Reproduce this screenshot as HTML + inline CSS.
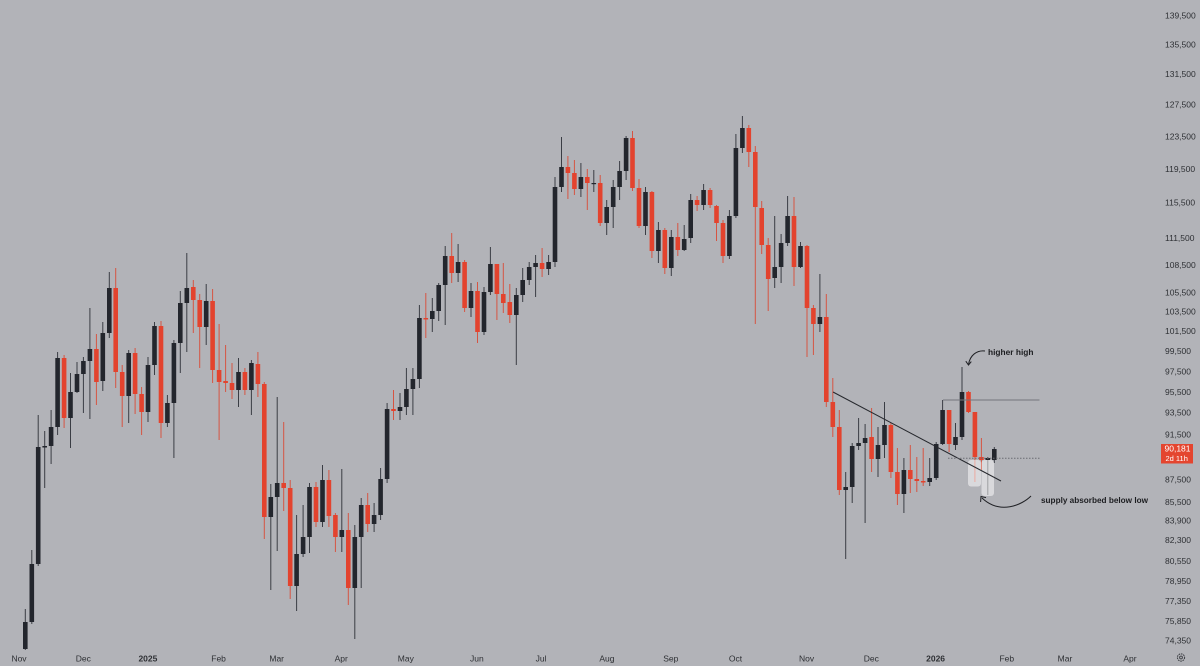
<!DOCTYPE html>
<html><head><meta charset="utf-8"><style>
html,body{margin:0;padding:0;background:#b2b3b8;}
svg{display:block;}
.d{fill:#23262d}.r{fill:#e3432e}
.wd{stroke:#3a3d44;stroke-width:1;fill:none}
.wr{stroke:#d65442;stroke-width:1;fill:none}
.yl{font-family:"Liberation Sans",sans-serif;font-size:8.5px;fill:#2e3034}
.xl{font-family:"Liberation Sans",sans-serif;font-size:8.5px;fill:#2e3034;text-anchor:middle}
.an{font-family:"Liberation Sans",sans-serif;font-size:8.5px;font-weight:bold;fill:#1c1d20}
</style></head><body>
<svg width="1200" height="666" viewBox="0 0 1200 666" xmlns="http://www.w3.org/2000/svg">
<rect width="1200" height="666" fill="#b2b3b8"/>
<g>
<path class="wd" d="M25.3 609V650"/><rect class="d" x="23" y="622" width="4.6" height="27"/>
<path class="wd" d="M31.8 550V624"/><rect class="d" x="29.5" y="564" width="4.6" height="58"/>
<path class="wd" d="M38.2 415V566"/><rect class="d" x="35.9" y="447" width="4.6" height="117"/>
<path class="wd" d="M44.7 431V488"/><rect class="d" x="42.4" y="446" width="4.6" height="1.5"/>
<path class="wd" d="M51.1 410V464"/><rect class="d" x="48.8" y="427" width="4.6" height="19"/>
<path class="wd" d="M57.6 352V435"/><rect class="d" x="55.3" y="358" width="4.6" height="69"/>
<path class="wr" d="M64.1 355V428"/><rect class="r" x="61.8" y="358" width="4.6" height="60"/>
<path class="wd" d="M70.5 373V448"/><rect class="d" x="68.2" y="392" width="4.6" height="26"/>
<path class="wd" d="M77 362V393"/><rect class="d" x="74.7" y="374" width="4.6" height="18"/>
<path class="wd" d="M83.4 357V413"/><rect class="d" x="81.1" y="361" width="4.6" height="13"/>
<path class="wd" d="M89.9 308V419"/><rect class="d" x="87.6" y="349" width="4.6" height="12"/>
<path class="wr" d="M96.4 334V405"/><rect class="r" x="94.1" y="349" width="4.6" height="33"/>
<path class="wd" d="M102.8 322V391"/><rect class="d" x="100.5" y="333" width="4.6" height="48"/>
<path class="wd" d="M109.3 272V338"/><rect class="d" x="107" y="288" width="4.6" height="45"/>
<path class="wr" d="M115.7 268V388"/><rect class="r" x="113.4" y="288" width="4.6" height="84"/>
<path class="wr" d="M122.2 365V427"/><rect class="r" x="119.9" y="372" width="4.6" height="24"/>
<path class="wd" d="M128.7 350V423"/><rect class="d" x="126.4" y="353" width="4.6" height="43"/>
<path class="wr" d="M135.1 348V414"/><rect class="r" x="132.8" y="353" width="4.6" height="41"/>
<path class="wr" d="M141.6 387V435"/><rect class="r" x="139.3" y="394" width="4.6" height="18"/>
<path class="wd" d="M148 357V422"/><rect class="d" x="145.7" y="365" width="4.6" height="47"/>
<path class="wd" d="M154.5 322V375"/><rect class="d" x="152.2" y="326" width="4.6" height="39"/>
<path class="wr" d="M161 321V438"/><rect class="r" x="158.7" y="326" width="4.6" height="97"/>
<path class="wd" d="M167.4 395V427"/><rect class="d" x="165.1" y="403" width="4.6" height="20"/>
<path class="wd" d="M173.9 340V458"/><rect class="d" x="171.6" y="343" width="4.6" height="60"/>
<path class="wd" d="M180.3 291V373"/><rect class="d" x="178" y="303" width="4.6" height="40"/>
<path class="wd" d="M186.8 253V352"/><rect class="d" x="184.5" y="288" width="4.6" height="15"/>
<path class="wr" d="M193.3 280V333"/><rect class="r" x="191" y="287" width="4.6" height="13"/>
<path class="wr" d="M199.7 294V368"/><rect class="r" x="197.4" y="300" width="4.6" height="27"/>
<path class="wd" d="M206.2 284V345"/><rect class="d" x="203.9" y="301" width="4.6" height="26"/>
<path class="wr" d="M212.6 289V383"/><rect class="r" x="210.3" y="301" width="4.6" height="69"/>
<path class="wr" d="M219.1 324V440"/><rect class="r" x="216.8" y="370" width="4.6" height="12"/>
<path class="wr" d="M225.6 345V392"/><rect class="r" x="223.3" y="381" width="4.6" height="2"/>
<path class="wr" d="M232 363V399"/><rect class="r" x="229.7" y="383" width="4.6" height="7"/>
<path class="wd" d="M238.5 358V407"/><rect class="d" x="236.2" y="372" width="4.6" height="18"/>
<path class="wr" d="M244.9 368V395"/><rect class="r" x="242.6" y="372" width="4.6" height="18"/>
<path class="wd" d="M251.4 360V415"/><rect class="d" x="249.1" y="363" width="4.6" height="27"/>
<path class="wr" d="M257.9 352V397"/><rect class="r" x="255.6" y="364" width="4.6" height="20"/>
<path class="wr" d="M264.3 382V539"/><rect class="r" x="262" y="384" width="4.6" height="133"/>
<path class="wd" d="M270.8 484V590"/><rect class="d" x="268.5" y="497" width="4.6" height="20"/>
<path class="wd" d="M277.2 397V551"/><rect class="d" x="274.9" y="483" width="4.6" height="14"/>
<path class="wr" d="M283.7 422V511"/><rect class="r" x="281.4" y="483" width="4.6" height="5"/>
<path class="wr" d="M290.2 480V599"/><rect class="r" x="287.9" y="488" width="4.6" height="98"/>
<path class="wd" d="M296.6 515V611"/><rect class="d" x="294.3" y="554" width="4.6" height="32"/>
<path class="wd" d="M303.1 505V557"/><rect class="d" x="300.8" y="537" width="4.6" height="17"/>
<path class="wd" d="M309.5 483V553"/><rect class="d" x="307.2" y="487" width="4.6" height="50"/>
<path class="wr" d="M316 482V527"/><rect class="r" x="313.7" y="487" width="4.6" height="35"/>
<path class="wd" d="M322.5 465V527"/><rect class="d" x="320.2" y="480" width="4.6" height="42"/>
<path class="wr" d="M328.9 470V527"/><rect class="r" x="326.6" y="480" width="4.6" height="36"/>
<path class="wr" d="M335.4 513V552"/><rect class="r" x="333.1" y="515" width="4.6" height="22"/>
<path class="wd" d="M341.8 469V552"/><rect class="d" x="339.5" y="530" width="4.6" height="7"/>
<path class="wr" d="M348.3 513V605"/><rect class="r" x="346" y="530" width="4.6" height="58"/>
<path class="wd" d="M354.8 525V639"/><rect class="d" x="352.5" y="537" width="4.6" height="51"/>
<path class="wd" d="M361.2 498V588"/><rect class="d" x="358.9" y="505" width="4.6" height="32"/>
<path class="wr" d="M367.7 493V532"/><rect class="r" x="365.4" y="505" width="4.6" height="19"/>
<path class="wd" d="M374.1 503V532"/><rect class="d" x="371.8" y="515" width="4.6" height="9"/>
<path class="wd" d="M380.6 468V520"/><rect class="d" x="378.3" y="479" width="4.6" height="36"/>
<path class="wd" d="M387.1 403V483"/><rect class="d" x="384.8" y="409" width="4.6" height="70"/>
<path class="wr" d="M393.5 390V420"/><rect class="r" x="391.2" y="409" width="4.6" height="2"/>
<path class="wd" d="M400 393V420"/><rect class="d" x="397.7" y="407" width="4.6" height="4"/>
<path class="wd" d="M406.4 368V415"/><rect class="d" x="404.1" y="389" width="4.6" height="18"/>
<path class="wd" d="M412.9 368V415"/><rect class="d" x="410.6" y="379" width="4.6" height="10"/>
<path class="wd" d="M419.4 305V388"/><rect class="d" x="417.1" y="318" width="4.6" height="61"/>
<path class="wr" d="M425.8 293V338"/><rect class="r" x="423.5" y="318" width="4.6" height="1.5"/>
<path class="wd" d="M432.3 298V332"/><rect class="d" x="430" y="311" width="4.6" height="8"/>
<path class="wd" d="M438.7 283V321"/><rect class="d" x="436.4" y="285" width="4.6" height="26"/>
<path class="wd" d="M445.2 246V325"/><rect class="d" x="442.9" y="256" width="4.6" height="29"/>
<path class="wr" d="M451.7 233V283"/><rect class="r" x="449.4" y="256" width="4.6" height="17"/>
<path class="wd" d="M458.1 244V282"/><rect class="d" x="455.8" y="262" width="4.6" height="11"/>
<path class="wr" d="M464.6 260V312"/><rect class="r" x="462.3" y="262" width="4.6" height="46"/>
<path class="wd" d="M471 283V317"/><rect class="d" x="468.7" y="291" width="4.6" height="17"/>
<path class="wr" d="M477.5 282V343"/><rect class="r" x="475.2" y="291" width="4.6" height="41"/>
<path class="wd" d="M484 287V335"/><rect class="d" x="481.7" y="292" width="4.6" height="40"/>
<path class="wd" d="M490.4 247V295"/><rect class="d" x="488.1" y="264" width="4.6" height="28"/>
<path class="wr" d="M496.9 264V320"/><rect class="r" x="494.6" y="264" width="4.6" height="30"/>
<path class="wr" d="M503.3 263V313"/><rect class="r" x="501" y="294" width="4.6" height="9"/>
<path class="wr" d="M509.8 284V323"/><rect class="r" x="507.5" y="302" width="4.6" height="13"/>
<path class="wd" d="M516.3 288V365"/><rect class="d" x="514" y="295" width="4.6" height="20"/>
<path class="wd" d="M522.7 268V302"/><rect class="d" x="520.4" y="280" width="4.6" height="15"/>
<path class="wd" d="M529.2 262V285"/><rect class="d" x="526.9" y="267" width="4.6" height="13"/>
<path class="wd" d="M535.6 255V297"/><rect class="d" x="533.3" y="263" width="4.6" height="4"/>
<path class="wr" d="M542.1 248V277"/><rect class="r" x="539.8" y="263" width="4.6" height="6"/>
<path class="wd" d="M548.6 255V275"/><rect class="d" x="546.3" y="262" width="4.6" height="7"/>
<path class="wd" d="M555 177V267"/><rect class="d" x="552.7" y="187" width="4.6" height="75"/>
<path class="wd" d="M561.5 137V192"/><rect class="d" x="559.2" y="167" width="4.6" height="20"/>
<path class="wr" d="M567.9 156V199"/><rect class="r" x="565.6" y="167" width="4.6" height="6"/>
<path class="wr" d="M574.4 160V195"/><rect class="r" x="572.1" y="173" width="4.6" height="16"/>
<path class="wd" d="M580.9 163V197"/><rect class="d" x="578.6" y="177" width="4.6" height="12"/>
<path class="wr" d="M587.3 169V210"/><rect class="r" x="585" y="177" width="4.6" height="6"/>
<path class="wd" d="M593.8 170V192"/><rect class="d" x="591.5" y="183" width="4.6" height="1.2"/>
<path class="wr" d="M600.2 175V226"/><rect class="r" x="597.9" y="183" width="4.6" height="40"/>
<path class="wd" d="M606.7 200V235"/><rect class="d" x="604.4" y="207" width="4.6" height="16"/>
<path class="wd" d="M613.2 180V228"/><rect class="d" x="610.9" y="187" width="4.6" height="20"/>
<path class="wd" d="M619.6 161V200"/><rect class="d" x="617.3" y="171" width="4.6" height="16"/>
<path class="wd" d="M626.1 136V180"/><rect class="d" x="623.8" y="138" width="4.6" height="33"/>
<path class="wr" d="M632.5 131V191"/><rect class="r" x="630.2" y="138" width="4.6" height="50"/>
<path class="wr" d="M639 179V228"/><rect class="r" x="636.7" y="188" width="4.6" height="38"/>
<path class="wd" d="M645.5 187V235"/><rect class="d" x="643.2" y="192" width="4.6" height="34"/>
<path class="wr" d="M651.9 191V258"/><rect class="r" x="649.6" y="192" width="4.6" height="59"/>
<path class="wd" d="M658.4 222V263"/><rect class="d" x="656.1" y="230" width="4.6" height="21"/>
<path class="wr" d="M664.8 228V274"/><rect class="r" x="662.5" y="230" width="4.6" height="38"/>
<path class="wd" d="M671.3 230V276"/><rect class="d" x="669" y="237" width="4.6" height="31"/>
<path class="wr" d="M677.8 223V256"/><rect class="r" x="675.5" y="237" width="4.6" height="13"/>
<path class="wd" d="M684.2 225V251"/><rect class="d" x="681.9" y="239" width="4.6" height="11"/>
<path class="wd" d="M690.7 194V243"/><rect class="d" x="688.4" y="200" width="4.6" height="38"/>
<path class="wr" d="M697.1 196V211"/><rect class="r" x="694.8" y="200" width="4.6" height="5"/>
<path class="wd" d="M703.6 184V210"/><rect class="d" x="701.3" y="190" width="4.6" height="15"/>
<path class="wr" d="M710.1 188V208"/><rect class="r" x="707.8" y="190" width="4.6" height="15"/>
<path class="wr" d="M716.5 205V241"/><rect class="r" x="714.2" y="206" width="4.6" height="17"/>
<path class="wr" d="M723 220V263"/><rect class="r" x="720.7" y="223" width="4.6" height="33"/>
<path class="wd" d="M729.4 210V259"/><rect class="d" x="727.1" y="216" width="4.6" height="40"/>
<path class="wd" d="M735.9 134V218"/><rect class="d" x="733.6" y="148" width="4.6" height="68"/>
<path class="wd" d="M742.4 116V153"/><rect class="d" x="740.1" y="128" width="4.6" height="20"/>
<path class="wr" d="M748.8 125V167"/><rect class="r" x="746.5" y="128" width="4.6" height="24"/>
<path class="wr" d="M755.3 146V324"/><rect class="r" x="753" y="152" width="4.6" height="55"/>
<path class="wr" d="M761.7 201V254"/><rect class="r" x="759.4" y="208" width="4.6" height="37"/>
<path class="wr" d="M768.2 238V311"/><rect class="r" x="765.9" y="245" width="4.6" height="34"/>
<path class="wd" d="M774.7 216V288"/><rect class="d" x="772.4" y="267" width="4.6" height="11"/>
<path class="wd" d="M781.1 234V283"/><rect class="d" x="778.8" y="243" width="4.6" height="24"/>
<path class="wd" d="M787.6 196V246"/><rect class="d" x="785.3" y="216" width="4.6" height="27"/>
<path class="wr" d="M794 197V286"/><rect class="r" x="791.7" y="216" width="4.6" height="51"/>
<path class="wd" d="M800.5 242V268"/><rect class="d" x="798.2" y="246" width="4.6" height="21"/>
<path class="wr" d="M807 245V357"/><rect class="r" x="804.7" y="246" width="4.6" height="62"/>
<path class="wr" d="M813.4 305V355"/><rect class="r" x="811.1" y="308" width="4.6" height="16"/>
<path class="wd" d="M819.9 274V332"/><rect class="d" x="817.6" y="317" width="4.6" height="7"/>
<path class="wr" d="M826.3 294V407"/><rect class="r" x="824" y="317" width="4.6" height="85"/>
<path class="wr" d="M832.8 378V437"/><rect class="r" x="830.5" y="402" width="4.6" height="25"/>
<path class="wr" d="M839.3 410V495"/><rect class="r" x="837" y="427" width="4.6" height="63"/>
<path class="wd" d="M845.7 472V559"/><rect class="d" x="843.4" y="487" width="4.6" height="3"/>
<path class="wd" d="M852.2 443V503"/><rect class="d" x="849.9" y="446" width="4.6" height="41"/>
<path class="wd" d="M858.6 418V450"/><rect class="d" x="856.3" y="443" width="4.6" height="3"/>
<path class="wd" d="M865.1 424V523"/><rect class="d" x="862.8" y="438" width="4.6" height="5"/>
<path class="wr" d="M871.6 408V472"/><rect class="r" x="869.3" y="437" width="4.6" height="22"/>
<path class="wd" d="M878 427V477"/><rect class="d" x="875.7" y="445" width="4.6" height="14"/>
<path class="wd" d="M884.5 402V458"/><rect class="d" x="882.2" y="425" width="4.6" height="20"/>
<path class="wr" d="M890.9 423V478"/><rect class="r" x="888.6" y="425" width="4.6" height="47"/>
<path class="wr" d="M897.4 448V505"/><rect class="r" x="895.1" y="472" width="4.6" height="22"/>
<path class="wd" d="M903.9 458V513"/><rect class="d" x="901.6" y="470" width="4.6" height="24"/>
<path class="wr" d="M910.3 445V493"/><rect class="r" x="908" y="470" width="4.6" height="9"/>
<path class="wr" d="M916.8 457V492"/><rect class="r" x="914.5" y="479" width="4.6" height="2"/>
<path class="wr" d="M923.2 448V486"/><rect class="r" x="920.9" y="481" width="4.6" height="1.5"/>
<path class="wd" d="M929.7 458V486"/><rect class="d" x="927.4" y="478" width="4.6" height="4"/>
<path class="wd" d="M936.2 442V480"/><rect class="d" x="933.9" y="444" width="4.6" height="34"/>
<path class="wd" d="M942.6 400V445"/><rect class="d" x="940.3" y="410" width="4.6" height="34"/>
<path class="wr" d="M949.1 410V452"/><rect class="r" x="946.8" y="410" width="4.6" height="34"/>
<path class="wd" d="M955.5 423V450"/><rect class="d" x="953.2" y="437" width="4.6" height="8"/>
<path class="wd" d="M962 367V440"/><rect class="d" x="959.7" y="392" width="4.6" height="45"/>
<path class="wr" d="M968.5 391V413"/><rect class="r" x="966.2" y="392" width="4.6" height="20"/>
<path class="wr" d="M974.9 412V482"/><rect class="r" x="972.6" y="412" width="4.6" height="45"/>
<path class="wr" d="M981.4 438V470"/><rect class="r" x="979.1" y="457" width="4.6" height="3"/>
<path class="wd" d="M987.8 457V495"/><rect class="d" x="985.5" y="458" width="4.6" height="2"/>
<path class="wd" d="M994.3 447V463"/><rect class="d" x="992" y="449" width="4.6" height="11"/>
</g>
<!-- highlight boxes -->
<rect x="968" y="460" width="13" height="26.5" rx="3" fill="#ffffff" fill-opacity="0.5"/>
<rect x="981.5" y="460" width="12.5" height="36" rx="3" fill="#ffffff" fill-opacity="0.5"/>
<!-- lines -->
<line x1="833" y1="392" x2="1001" y2="481" stroke="#26282d" stroke-width="1"/>
<line x1="943" y1="400" x2="1039.5" y2="400" stroke="#74767c" stroke-width="1"/>
<line x1="948" y1="458.3" x2="1039.5" y2="458.3" stroke="#6a6c72" stroke-width="1" stroke-dasharray="1.5,1.5"/>
<!-- annotations -->
<path d="M985 351 C977 350 970 355 968.5 364.5" stroke="#1f2024" stroke-width="1" fill="none"/>
<path d="M965.8 361.2 L968.5 365 L971.3 361.6" stroke="#1f2024" stroke-width="1" fill="none"/>
<text class="an" x="988" y="355" textLength="45.5" lengthAdjust="spacingAndGlyphs">higher high</text>
<path d="M1031 496 C1022 505 1000 515 982 498" stroke="#1f2024" stroke-width="1" fill="none"/>
<path d="M980.6 502 L981 496.5 L986 497.6" stroke="#1f2024" stroke-width="1" fill="none"/>
<text class="an" x="1041" y="503" textLength="107" lengthAdjust="spacingAndGlyphs">supply absorbed below low</text>
<!-- y axis labels -->
<text class="yl" x="1165" y="18.7">139,500</text>
<text class="yl" x="1165" y="47.3">135,500</text>
<text class="yl" x="1165" y="77">131,500</text>
<text class="yl" x="1165" y="107.3">127,500</text>
<text class="yl" x="1165" y="139.7">123,500</text>
<text class="yl" x="1165" y="172">119,500</text>
<text class="yl" x="1165" y="205.7">115,500</text>
<text class="yl" x="1165" y="241">111,500</text>
<text class="yl" x="1165" y="268">108,500</text>
<text class="yl" x="1165" y="295.7">105,500</text>
<text class="yl" x="1165" y="314.7">103,500</text>
<text class="yl" x="1165" y="334">101,500</text>
<text class="yl" x="1165" y="354">99,500</text>
<text class="yl" x="1165" y="374.7">97,500</text>
<text class="yl" x="1165" y="395">95,500</text>
<text class="yl" x="1165" y="415.7">93,500</text>
<text class="yl" x="1165" y="437.7">91,500</text>
<text class="yl" x="1165" y="482.3">87,500</text>
<text class="yl" x="1165" y="505">85,500</text>
<text class="yl" x="1165" y="523.7">83,900</text>
<text class="yl" x="1165" y="543">82,300</text>
<text class="yl" x="1165" y="564">80,550</text>
<text class="yl" x="1165" y="584">78,950</text>
<text class="yl" x="1165" y="604">77,350</text>
<text class="yl" x="1165" y="624">75,850</text>
<text class="yl" x="1165" y="643.7">74,350</text>
<!-- price tag -->
<rect x="1161" y="444" width="32" height="19.5" fill="#e4452f"/>
<text class="yl" x="1164.5" y="451.5" style="fill:#ffffff">90,181</text>
<text class="yl" x="1165.5" y="461" style="fill:#ffffff;font-size:7.5px">2d 11h</text>
<!-- x axis labels -->
<text class="xl" x="19" y="661.3">Nov</text>
<text class="xl" x="83.3" y="661.3">Dec</text>
<text class="xl" x="147.9" y="661.3" style="font-weight:bold">2025</text>
<text class="xl" x="218.6" y="661.3">Feb</text>
<text class="xl" x="276.7" y="661.3">Mar</text>
<text class="xl" x="341.2" y="661.3">Apr</text>
<text class="xl" x="405.8" y="661.3">May</text>
<text class="xl" x="476.9" y="661.3">Jun</text>
<text class="xl" x="541" y="661.3">Jul</text>
<text class="xl" x="606.9" y="661.3">Aug</text>
<text class="xl" x="670.8" y="661.3">Sep</text>
<text class="xl" x="735.5" y="661.3">Oct</text>
<text class="xl" x="806.6" y="661.3">Nov</text>
<text class="xl" x="871.3" y="661.3">Dec</text>
<text class="xl" x="935.6" y="661.3" style="font-weight:bold">2026</text>
<text class="xl" x="1006.8" y="661.3">Feb</text>
<text class="xl" x="1065" y="661.3">Mar</text>
<text class="xl" x="1130" y="661.3">Apr</text>
<!-- gear -->
<circle cx="1181" cy="657.5" r="3.6" fill="none" stroke="#3a3c41" stroke-width="1" stroke-dasharray="1.6,0.8"/>
<circle cx="1181" cy="657.5" r="1.4" fill="none" stroke="#3a3c41" stroke-width="0.9"/>
</svg>
</body></html>
